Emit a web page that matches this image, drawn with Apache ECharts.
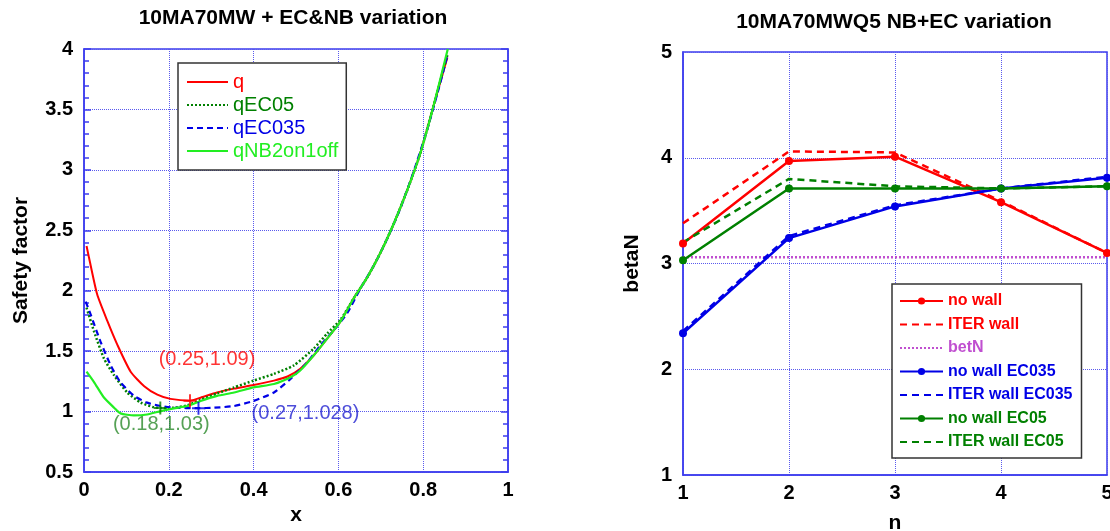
<!DOCTYPE html>
<html>
<head>
<meta charset="utf-8">
<title>q profile and betaN</title>
<script src="https://cdn.jsdelivr.net/npm/echarts@6/dist/echarts.min.js"></script>
<style>
  html, body { margin: 0; padding: 0; background: #fff; }
  #main { width: 1110px; height: 531px; }
</style>
</head>
<body>
<div id="main"></div>
<script>
// left panel: safety factor profiles
var qX   = [0.006, 0.012, 0.031, 0.055, 0.079, 0.11, 0.142, 0.173, 0.204, 0.25, 0.275, 0.314, 0.354, 0.40, 0.448, 0.48, 0.51, 0.542, 0.574, 0.605, 0.637, 0.668, 0.70, 0.731, 0.763, 0.794, 0.825, 0.857];
var qY   = [2.37, 2.27, 1.97, 1.75, 1.55, 1.33, 1.21, 1.14, 1.105, 1.09, 1.115, 1.158, 1.19, 1.22, 1.256, 1.29, 1.354, 1.466, 1.606, 1.746, 1.942, 2.11, 2.32, 2.558, 2.838, 3.146, 3.538, 3.93];
var ec05X = [0.006, 0.024, 0.047, 0.071, 0.102, 0.134, 0.165, 0.18, 0.212, 0.244, 0.275, 0.314, 0.354, 0.40, 0.448, 0.495, 0.542, 0.574, 0.605, 0.637, 0.668, 0.70, 0.731, 0.763, 0.794, 0.825, 0.857];
var ec05Y = [1.86, 1.66, 1.44, 1.30, 1.158, 1.074, 1.035, 1.03, 1.032, 1.052, 1.097, 1.15, 1.20, 1.256, 1.312, 1.382, 1.522, 1.648, 1.76, 1.942, 2.11, 2.32, 2.558, 2.838, 3.146, 3.538, 3.95];
var ec035X = [0.004, 0.016, 0.039, 0.063, 0.086, 0.118, 0.149, 0.181, 0.212, 0.27, 0.307, 0.354, 0.40, 0.448, 0.487, 0.527, 0.558, 0.59, 0.621, 0.652, 0.684, 0.715, 0.747, 0.778, 0.81, 0.841, 0.857];
var ec035Y = [1.91, 1.80, 1.578, 1.382, 1.242, 1.13, 1.074, 1.046, 1.032, 1.028, 1.032, 1.046, 1.088, 1.158, 1.27, 1.41, 1.55, 1.676, 1.816, 2.02, 2.21, 2.43, 2.69, 2.99, 3.34, 3.73, 3.95];
var nbX  = [0.006, 0.024, 0.047, 0.071, 0.086, 0.118, 0.149, 0.181, 0.212, 0.244, 0.275, 0.314, 0.354, 0.40, 0.448, 0.487, 0.51, 0.542, 0.574, 0.605, 0.637, 0.668, 0.70, 0.731, 0.763, 0.794, 0.825, 0.858];
var nbY  = [1.33, 1.242, 1.116, 1.032, 0.985, 0.968, 0.976, 1.004, 1.027, 1.046, 1.088, 1.13, 1.158, 1.20, 1.228, 1.284, 1.34, 1.466, 1.606, 1.746, 1.942, 2.11, 2.32, 2.558, 2.838, 3.146, 3.538, 4.0];
// minimum q points marked on the plot
var minX = [0.25, 0.27, 0.18];
var minY = [1.09, 1.028, 1.03];

// right panel: betaN limit vs n
var nVals = [1, 2, 3, 4, 5];
var noWall       = [3.19, 3.97, 4.01, 3.58, 3.10];
var iterWall     = [3.38, 4.06, 4.05, 3.59, 3.10];
var betN         = [3.06, 3.06, 3.06, 3.06, 3.06];
var noWallEC035  = [2.34, 3.24, 3.54, 3.71, 3.81];
var iterWallEC035= [2.36, 3.26, 3.55, 3.71, 3.82];
var noWallEC05   = [3.03, 3.71, 3.71, 3.71, 3.73];
var iterWallEC05 = [3.20, 3.80, 3.73, 3.71, 3.73];

function pairs(xs, ys) {
    return xs.map(function (x, i) { return [x, ys[i]]; });
}

var FONT = 'Liberation Sans';
var AXIS = '#3c3cee';
var RED = '#ff0000', DGREEN = '#008000', BLUE = '#0000e6', LGREEN = '#22ee22', MAG = '#c04fd0';
var plus = 'path://M4.25,0h1.5v10h-1.5z M0,4.25h10v1.5h-10z';
var noMark = { opacity: 0, color: 'rgba(0,0,0,0)', borderWidth: 0 };

var tickLabel = { color: '#000', fontSize: 20, fontWeight: 'bold', fontFamily: FONT };
var axisName = { color: '#000', fontSize: 21, fontWeight: 'bold', fontFamily: FONT };
var gridLine = { show: true, lineStyle: { type: 'dotted', color: '#5a5aee', width: 1 } };

var chart = echarts.init(document.getElementById('main'));

var option = {
    backgroundColor: '#fff',
    animation: false,
    title: [
        { text: '10MA70MW + EC&NB variation', left: 293, top: 8, textAlign: 'center', padding: 0,
          textStyle: { fontSize: 21, fontWeight: 'bold', fontFamily: FONT, color: '#000' } },
        { text: '10MA70MWQ5 NB+EC variation', left: 894, top: 12, textAlign: 'center', padding: 0,
          textStyle: { fontSize: 21, fontWeight: 'bold', fontFamily: FONT, color: '#000' } }
    ],
    grid: [
        { left: 84, top: 49, width: 424, height: 423, outerBoundsMode: 'none',
          show: true, borderColor: AXIS, borderWidth: 1.5 },
        { left: 683, top: 52, width: 424, height: 423, outerBoundsMode: 'none',
          show: true, borderColor: AXIS, borderWidth: 1.5 }
    ],
    legend: [
        {
            left: 178, top: 63, orient: 'vertical', selectedMode: false,
            backgroundColor: '#fff', borderColor: '#333', borderWidth: 1.5,
            padding: [9, 8, 9, 8], itemWidth: 41, itemHeight: 14, itemGap: 3,
            textStyle: { fontSize: 20, lineHeight: 20, fontFamily: FONT },
            data: [
                { name: 'q', itemStyle: noMark, textStyle: { color: RED } },
                { name: 'qEC05', itemStyle: noMark, textStyle: { color: DGREEN } },
                { name: 'qEC035', itemStyle: noMark, textStyle: { color: BLUE } },
                { name: 'qNB2on1off', itemStyle: noMark, textStyle: { color: LGREEN } }
            ]
        },
        {
            left: 892, top: 284, orient: 'vertical', selectedMode: false,
            backgroundColor: '#fff', borderColor: '#333', borderWidth: 1.5,
            padding: [7, 9, 6, 7], itemWidth: 43, itemHeight: 9, itemGap: 3.5,
            textStyle: { fontSize: 16, lineHeight: 20, fontWeight: 'bold', fontFamily: FONT },
            data: [
                { name: 'no wall', textStyle: { color: RED } },
                { name: 'ITER wall', itemStyle: noMark, textStyle: { color: RED } },
                { name: 'betN', itemStyle: noMark, textStyle: { color: MAG } },
                { name: 'no wall EC035', textStyle: { color: BLUE } },
                { name: 'ITER wall EC035', itemStyle: noMark, textStyle: { color: BLUE } },
                { name: 'no wall EC05', textStyle: { color: DGREEN } },
                { name: 'ITER wall EC05', itemStyle: noMark, textStyle: { color: DGREEN } }
            ]
        }
    ],
    xAxis: [
        { type: 'value', gridIndex: 0, min: 0, max: 1, interval: 0.2,
          name: 'x', nameLocation: 'middle', nameGap: 25, nameTextStyle: axisName,
          axisLine: { show: true, lineStyle: { color: AXIS, width: 1.5 } },
          axisTick: { show: false }, axisLabel: Object.assign({ margin: 8 }, tickLabel),
          splitLine: gridLine },
        { type: 'value', gridIndex: 1, min: 1, max: 5, interval: 1,
          name: 'n', nameLocation: 'middle', nameGap: 38, nameTextStyle: axisName,
          axisLine: { show: true, lineStyle: { color: AXIS, width: 1.5 } },
          axisTick: { show: false }, axisLabel: Object.assign({ margin: 8 }, tickLabel),
          splitLine: gridLine }
    ],
    yAxis: [
        { type: 'value', gridIndex: 0, min: 0.5, max: 4, interval: 0.5,
          name: 'Safety factor', nameLocation: 'middle', nameGap: 52, nameTextStyle: axisName,
          axisLine: { show: true, lineStyle: { color: AXIS, width: 1.5 } },
          axisTick: { show: true, inside: true, length: 7, lineStyle: { color: AXIS, width: 1.5 } },
          minorTick: { show: true, splitNumber: 5, length: 5, lineStyle: { color: AXIS, width: 1.5 } },
          axisLabel: Object.assign({ margin: 11 }, tickLabel),
          splitLine: gridLine },
        { type: 'value', gridIndex: 0, position: 'right', min: 0.5, max: 4, interval: 0.5,
          axisLine: { show: true, lineStyle: { color: AXIS, width: 1.5 } },
          axisTick: { show: true, inside: true, length: 7, lineStyle: { color: AXIS, width: 1.5 } },
          minorTick: { show: true, splitNumber: 5, length: 5, lineStyle: { color: AXIS, width: 1.5 } },
          axisLabel: { show: false }, splitLine: { show: false } },
        { type: 'value', gridIndex: 1, min: 1, max: 5, interval: 1,
          name: 'betaN', nameLocation: 'middle', nameGap: 40, nameTextStyle: axisName,
          axisLine: { show: true, lineStyle: { color: AXIS, width: 1.5 } },
          axisTick: { show: false }, axisLabel: Object.assign({ margin: 11 }, tickLabel),
          splitLine: gridLine }
    ],
    series: []
};

function qLine(name, xs, ys, color, type, width) {
    return {
        name: name, type: 'line', xAxisIndex: 0, yAxisIndex: 0,
        data: pairs(xs, ys), showSymbol: false, symbol: 'none',
        smooth: 0.2,
        lineStyle: { color: color, type: type, width: width },
        itemStyle: { color: color }
    };
}

option.series.push(qLine('q', qX, qY, RED, 'solid', 2));
option.series.push(qLine('qEC05', ec05X, ec05Y, DGREEN, [2, 2], 2.5));
option.series.push(qLine('qEC035', ec035X, ec035Y, BLUE, [6, 4], 2.2));
option.series.push(qLine('qNB2on1off', nbX, nbY, LGREEN, 'solid', 2.2));

// min markers with their annotations
var minColors = [RED, BLUE, DGREEN];
var labelColors = [RED, '#2020d0', '#2a8a2a'];
var labelOffsets = [[17, -41], [107, 5], [1, 17]];
minX.forEach(function (x, i) {
    option.series.push({
        type: 'scatter', xAxisIndex: 0, yAxisIndex: 0,
        data: [[x, minY[i]]], symbol: plus, symbolSize: 13,
        itemStyle: { color: minColors[i] },
        label: {
            show: true, position: 'inside', offset: labelOffsets[i],
            formatter: '(' + x + ',' + minY[i] + ')',
            color: labelColors[i], fontSize: 20, fontFamily: FONT
        },
        z: 5
    });
});

function bLine(name, ys, color, type, marker) {
    return {
        name: name, type: 'line', xAxisIndex: 1, yAxisIndex: 2,
        data: pairs(nVals, ys),
        symbol: marker ? 'circle' : 'none', symbolSize: 8, showSymbol: marker,
        lineStyle: { color: color, type: type, width: 2.5 },
        itemStyle: { color: color }
    };
}

option.series.push(bLine('no wall', noWall, RED, 'solid', true));
option.series.push(bLine('ITER wall', iterWall, RED, [7, 5], false));
option.series.push(bLine('betN', betN, MAG, [2, 2], false));
option.series.push(bLine('no wall EC035', noWallEC035, BLUE, 'solid', true));
option.series.push(bLine('ITER wall EC035', iterWallEC035, BLUE, [7, 5], false));
option.series.push(bLine('no wall EC05', noWallEC05, DGREEN, 'solid', true));
option.series.push(bLine('ITER wall EC05', iterWallEC05, DGREEN, [7, 5], false));

chart.setOption(option);
</script>
</body>
</html>
